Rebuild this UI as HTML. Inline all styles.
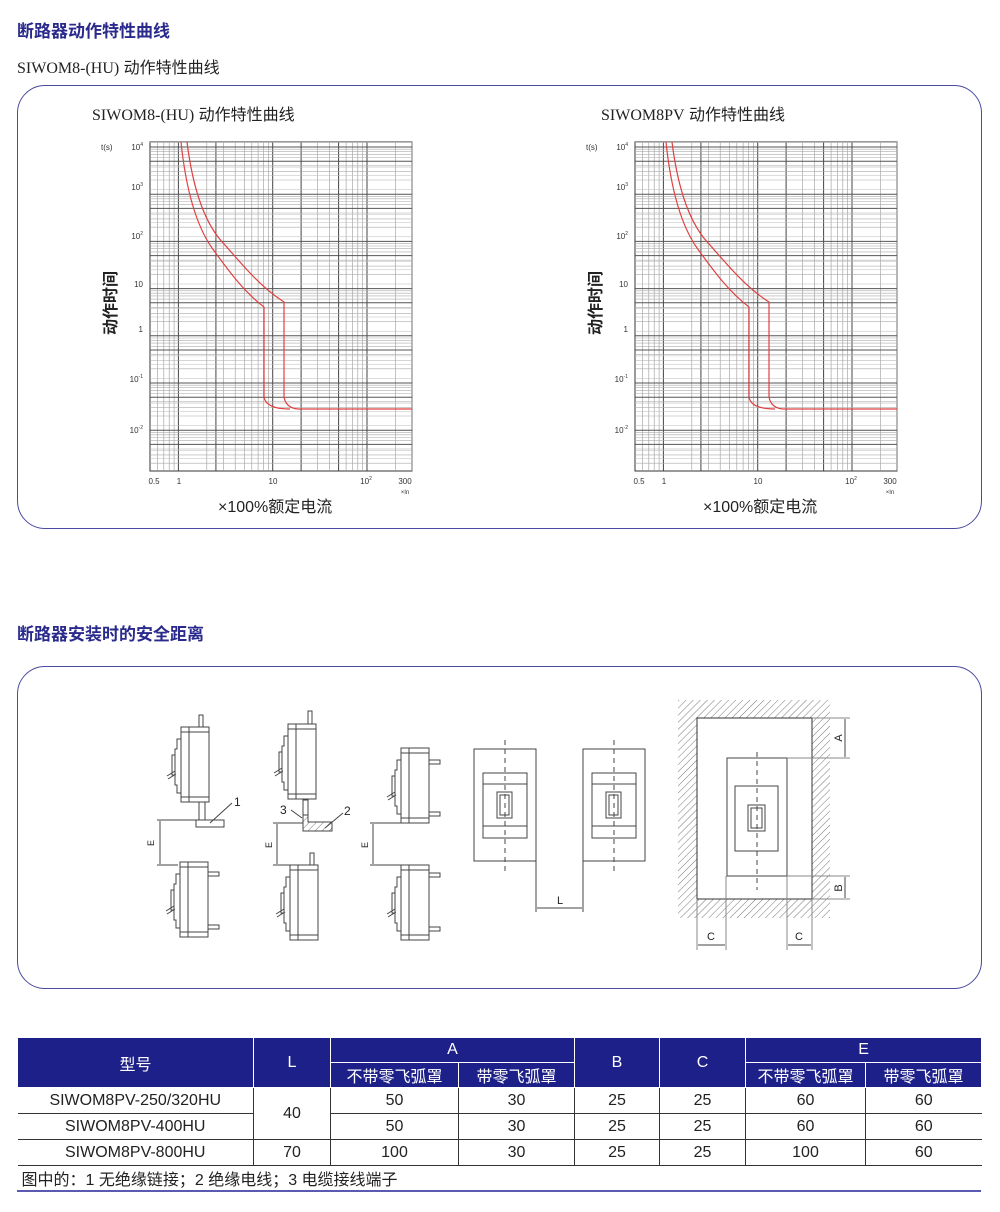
<!DOCTYPE html>
<html><head><meta charset="utf-8">
<style>
body{margin:0;background:#fff;width:1000px;height:1212px;position:relative;overflow:hidden;font-family:"Liberation Sans","Noto Sans CJK SC",sans-serif;color:#222}
.abs{position:absolute;white-space:nowrap}
.h1{font-size:17px;font-weight:bold;color:#2a2a8c}
.box{position:absolute;border:1.5px solid #4a4aa0;border-radius:28px;box-sizing:border-box}
table{position:absolute;left:17px;top:1037px;border-collapse:collapse;font-size:16px;text-align:center;table-layout:fixed;width:964px}
td{padding:0;border:1px solid #333;height:25px;overflow:hidden;white-space:nowrap}
th{background:#1e208a;color:#fff;font-weight:normal;border:1px solid #fff;padding:0;height:24px;font-size:16px;white-space:nowrap;overflow:hidden}
</style></head><body>
<div class="abs h1" style="left:17px;top:17px">断路器动作特性曲线</div>
<div class="abs" style="left:17px;top:54px;font-size:16px"><span style="font-family:'Liberation Serif','Noto Sans CJK SC',serif">SIWOM8-(HU)</span> 动作特性曲线</div>
<div class="box" style="left:17px;top:85px;width:965px;height:444px"></div>
<div class="abs" style="left:92px;top:101px;font-size:16px"><span style="font-family:'Liberation Serif','Noto Sans CJK SC',serif">SIWOM8-(HU)</span> 动作特性曲线</div>
<div class="abs" style="left:601px;top:101px;font-size:16px"><span style="font-family:'Liberation Serif','Noto Sans CJK SC',serif">SIWOM8PV</span> 动作特性曲线</div>
<div class="abs" style="left:218px;top:493px;font-size:16px">×100%额定电流</div>
<div class="abs" style="left:703px;top:493px;font-size:16px">×100%额定电流</div>
<div class="abs h1" style="left:17px;top:620px">断路器安装时的安全距离</div>
<div class="box" style="left:17px;top:666px;width:965px;height:323px"></div>

<svg id="ch" width="1000" height="1212" style="position:absolute;left:0;top:0" xmlns="http://www.w3.org/2000/svg"></svg>

<svg width="1000" height="1212" style="position:absolute;left:0;top:0" xmlns="http://www.w3.org/2000/svg" font-family="Liberation Sans" fill="none" stroke="#444" stroke-width="1">
<defs>
<pattern id="hat" width="5" height="5" patternUnits="userSpaceOnUse" patternTransform="rotate(45)"><line x1="0" y1="0" x2="0" y2="5" stroke="#777" stroke-width="1"/></pattern>
<g id="bk">
<rect x="0" y="0" width="28" height="75" fill="#fff"/>
<line x1="8" y1="0" x2="8" y2="75"/><line x1="0" y1="5" x2="28" y2="5"/><line x1="0" y1="70" x2="28" y2="70"/>
<polyline points="0,12 -4,12 -4,22 -6,22 -6,58 -4,58 -4,66 0,66"/>
<rect x="-9" y="28" width="3" height="20"/>
<line x1="-6" y1="44" x2="-14" y2="49"/><line x1="-5" y1="47" x2="-13" y2="52"/>
</g>
</defs>
<rect x="199" y="715" width="4" height="12"/>
<use href="#bk" x="181" y="727"/>
<rect x="199" y="802" width="6" height="18"/>
<rect x="196" y="820" width="28" height="7"/>
<line x1="210" y1="823" x2="232" y2="803"/>
<text x="234" y="806" fill="#222" stroke="none" font-size="12">1</text>
<line x1="157" y1="820" x2="196" y2="820"/><line x1="157" y1="865" x2="178" y2="865"/>
<line x1="160" y1="821" x2="160" y2="864"/>
<text transform="translate(154,843) rotate(-90)" fill="#222" stroke="none" font-size="9" text-anchor="middle">E</text>
<use href="#bk" x="180" y="862"/>
<rect x="208" y="872" width="11" height="4"/><rect x="208" y="925" width="11" height="4"/>
<rect x="308" y="711" width="4" height="13"/>
<use href="#bk" x="288" y="724"/>
<rect x="303" y="800" width="5" height="15"/>
<path d="M303 815 L303 831 L332 831 L332 822 L308 822 L308 815 Z" fill="url(#hat)"/>
<line x1="302" y1="818" x2="291" y2="810"/><text x="280" y="814" fill="#222" stroke="none" font-size="12">3</text>
<line x1="325" y1="828" x2="343" y2="813"/><text x="344" y="815" fill="#222" stroke="none" font-size="12">2</text>
<line x1="273" y1="823" x2="303" y2="823"/><line x1="273" y1="865" x2="310" y2="865"/>
<line x1="277" y1="824" x2="277" y2="864"/>
<text transform="translate(272,845) rotate(-90)" fill="#222" stroke="none" font-size="9" text-anchor="middle">E</text>
<rect x="310" y="853" width="4" height="12"/>
<use href="#bk" x="290" y="865"/>
<use href="#bk" x="401" y="748"/>
<rect x="429" y="760" width="11" height="4"/><rect x="429" y="812" width="11" height="4"/>
<line x1="370" y1="823" x2="429" y2="823"/><line x1="370" y1="865" x2="429" y2="865"/>
<line x1="373" y1="824" x2="373" y2="864"/>
<text transform="translate(368,845) rotate(-90)" fill="#222" stroke="none" font-size="9" text-anchor="middle">E</text>
<use href="#bk" x="401" y="865"/>
<rect x="429" y="873" width="11" height="4"/><rect x="429" y="927" width="11" height="4"/>
<g id="fv">
<rect x="474" y="749" width="62" height="112"/>
<rect x="483" y="773" width="44" height="65"/>
<line x1="483" y1="784" x2="527" y2="784"/><line x1="483" y1="826" x2="527" y2="826"/>
<rect x="497" y="792" width="15" height="26"/><rect x="500" y="795" width="9" height="20"/>
<line x1="505" y1="740" x2="505" y2="872" stroke-dasharray="5,4"/>
</g>
<use href="#fv" x="109" y="0"/>
<line x1="536" y1="861" x2="536" y2="912"/><line x1="583" y1="861" x2="583" y2="912"/>
<line x1="537" y1="908" x2="582" y2="908"/>
<text x="557" y="904" fill="#222" stroke="none" font-size="11">L</text>
<path d="M678 700 H830 V918 H678 Z M697 718 V899 H812 V718 Z" fill="url(#hat)" stroke="none" fill-rule="evenodd"/>
<rect x="697" y="718" width="115" height="181" fill="#fff" stroke="#333"/>
<rect x="727" y="758" width="60" height="118"/>
<rect x="735" y="786" width="43" height="65"/>
<rect x="748" y="805" width="17" height="26"/><rect x="751" y="808" width="11" height="20"/>
<line x1="757" y1="752" x2="757" y2="890" stroke-dasharray="5,4"/>
<line x1="812" y1="718" x2="850" y2="718" stroke="#888"/><line x1="787" y1="758" x2="850" y2="758" stroke="#888"/>
<line x1="845" y1="719" x2="845" y2="757"/>
<text transform="translate(842,738) rotate(-90)" fill="#222" stroke="none" font-size="11" text-anchor="middle">A</text>
<line x1="787" y1="876" x2="850" y2="876" stroke="#888"/><line x1="812" y1="899" x2="850" y2="899" stroke="#888"/>
<line x1="845" y1="877" x2="845" y2="898"/>
<text transform="translate(842,888) rotate(-90)" fill="#222" stroke="none" font-size="11" text-anchor="middle">B</text>
<line x1="697" y1="899" x2="697" y2="950" stroke="#888"/><line x1="726" y1="876" x2="726" y2="950" stroke="#888"/>
<line x1="787" y1="876" x2="787" y2="950" stroke="#888"/><line x1="812" y1="899" x2="812" y2="950" stroke="#888"/>
<line x1="698" y1="945" x2="725" y2="945"/><line x1="788" y1="945" x2="811" y2="945"/>
<text x="707" y="940" fill="#222" stroke="none" font-size="11">C</text>
<text x="795" y="940" fill="#222" stroke="none" font-size="11">C</text>
</svg>

<table>
<colgroup><col style="width:236px"><col style="width:77px"><col style="width:128px"><col style="width:116px"><col style="width:85px"><col style="width:86px"><col style="width:120px"><col style="width:116px"></colgroup>
<tr><th rowspan="2">型号</th><th rowspan="2">L</th><th colspan="2">A</th><th rowspan="2">B</th><th rowspan="2">C</th><th colspan="2">E</th></tr>
<tr><th>不带零飞弧罩</th><th>带零飞弧罩</th><th>不带零飞弧罩</th><th>带零飞弧罩</th></tr>
<tr><td style="border-left:none">SIWOM8PV-250/320HU</td><td rowspan="2">40</td><td>50</td><td>30</td><td>25</td><td>25</td><td>60</td><td style="border-right:none">60</td></tr>
<tr><td style="border-left:none">SIWOM8PV-400HU</td><td>50</td><td>30</td><td>25</td><td>25</td><td>60</td><td style="border-right:none">60</td></tr>
<tr><td style="border-left:none">SIWOM8PV-800HU</td><td>70</td><td>100</td><td>30</td><td>25</td><td>25</td><td>100</td><td style="border-right:none">60</td></tr>
<tr><td colspan="8" style="border:none;border-top:1px solid #333;text-align:left;padding-left:4px;height:24px">图中的：1 无绝缘链接；2 绝缘电线；3 电缆接线端子</td></tr>
</table>
<div class="abs" style="left:17px;top:1190px;width:964px;height:2px;background:#5a5ab0"></div>

<script>
(function(){
var s=document.getElementById('ch');
function X(v){return 150+(Math.log10(v)-Math.log10(0.5))*94.3;}
function Y(t){return 147+(4-Math.log10(t))*47.2;}
var top=142,bot=471,L=150,R=412;
function chart(o){
 var g='<g transform="translate('+o+',0)">';
 g+='<rect x="'+L+'" y="'+top+'" width="'+(R-L)+'" height="'+(bot-top)+'" fill="#fff" stroke="#333"/>';
 var xs=[0.6,0.7,0.8,0.9];
 for(var d=1;d<=100;d*=10)for(var k=1;k<10;k++){var v=d*k;if(v<=300)xs.push(v);}
 xs.forEach(function(v){var x=X(v);var m=(v==1||v==10||v==100||v==2.5||v==20||v==50);g+='<line x1="'+x.toFixed(1)+'" y1="'+top+'" x2="'+x.toFixed(1)+'" y2="'+bot+'" stroke="'+(m?'#444':'#999')+'" stroke-width="'+(m?1:0.6)+'"/>';});
 [2.5].forEach(function(v){var x=X(v);g+='<line x1="'+x+'" y1="'+top+'" x2="'+x+'" y2="'+bot+'" stroke="#444"/>';});
 for(var e=-3;e<=4;e++)for(var k=1;k<10;k++){var t=Math.pow(10,e)*k;var y=Y(t);if(y<top||y>bot)continue;var m=(k==1||k==5);g+='<line x1="'+L+'" y1="'+y.toFixed(1)+'" x2="'+R+'" y2="'+y.toFixed(1)+'" stroke="'+(m?'#555':'#aaa')+'" stroke-width="'+(m?1:0.6)+'"/>';
  if(k<4){var y2=Y(t*1.25);g+='<line x1="'+L+'" y1="'+y2.toFixed(1)+'" x2="'+R+'" y2="'+y2.toFixed(1)+'" stroke="#bbb" stroke-width="0.5"/>';}}
 g+='<path d="M187 142 C193 190 205 225 225 245 C245 268 262 288 284 302 V397 Q286 408 298 409 H412" fill="none" stroke="#e04040" stroke-width="1.2"/>';
 g+='<path d="M181 142 C186 190 196 225 212 248 C228 270 244 292 264 307 V397 Q266 409 290 409" fill="none" stroke="#e04040" stroke-width="1.2"/>';
 var tx='fill="#333" font-family="Liberation Sans" font-size="8"';
 g+='<text x="101" y="150" '+tx+'>t(s)</text>';
 var yl=[['10','4',147],['10','3',187],['10','2',236],['10','',284],['1','',329],['10','-1',379],['10','-2',430]];
 yl.forEach(function(a){g+='<text x="143" y="'+(a[2]+3)+'" '+tx+' text-anchor="end">'+a[0]+(a[1]?'<tspan font-size="5" dy="-4">'+a[1]+'</tspan>':'')+'</text>';});
 g+='<text x="154" y="484" '+tx+' text-anchor="middle">0.5</text><text x="179" y="484" '+tx+' text-anchor="middle">1</text><text x="273" y="484" '+tx+' text-anchor="middle">10</text><text x="366" y="484" '+tx+' text-anchor="middle">10<tspan font-size="5" dy="-4">2</tspan></text><text x="405" y="484" '+tx+' text-anchor="middle">300</text><text x="405" y="494" fill="#333" font-size="6" font-family="Liberation Sans" text-anchor="middle">×In</text>';
 g+='<text transform="translate(116,303) rotate(-90)" fill="#222" font-family="Liberation Sans,Noto Sans CJK SC,sans-serif" font-size="16" font-weight="bold" text-anchor="middle">动作时间</text>';
 return g+'</g>';
}
s.innerHTML=chart(0)+chart(485);
})();
</script>
</body></html>
